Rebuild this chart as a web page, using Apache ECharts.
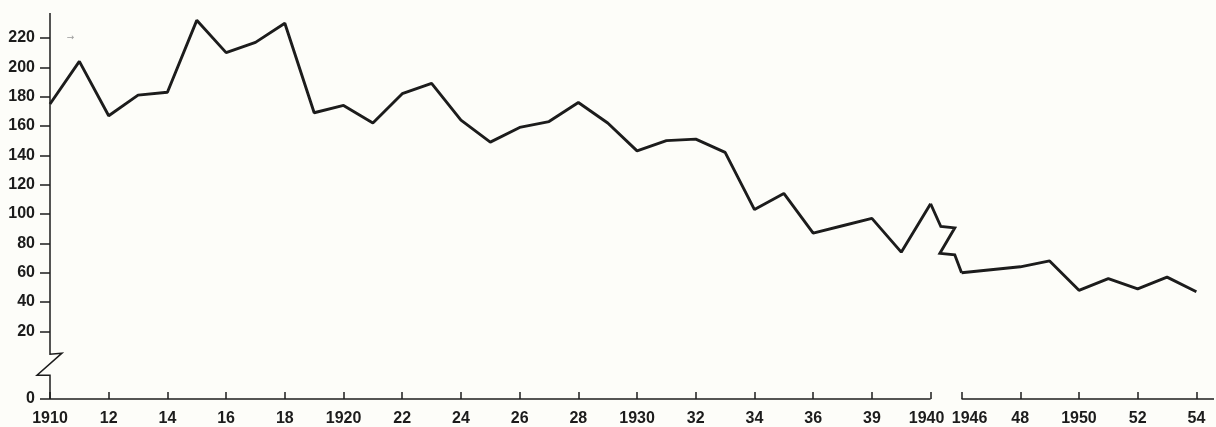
<!DOCTYPE html>
<html><head><meta charset="utf-8">
<script src="https://cdn.jsdelivr.net/npm/echarts@6/dist/echarts.min.js"></script>
<style>html,body{margin:0;padding:0;background:#fdfdf9}#c{width:1216px;height:427px}</style>
</head><body><div id="c"></div>
<script>
// Series values
const yearsA  = [1910,1911,1912,1913,1914,1915,1916,1917,1918,1919,1920,1921,1922,1923,1924,1925,1926,1927,1928,1929,1930,1931,1932,1933,1934,1935,1936,1937,1938,1939,1940];
const valuesA = [175,204,167,181,183,232,210,217,230,169,174,162,182,189,164,149,159,163,176,162,143,150,151,142,103,114,87,92,97,74,107];
const yearsB  = [1946,1947,1948,1949,1950,1951,1952,1953,1954];
const valuesB = [60,62,64,68,48,56,49,57,47];

// Tick labels (as printed on the original, including its "39")
const xTickYears  = [1910,1912,1914,1916,1918,1920,1922,1924,1926,1928,1930,1932,1934,1936,1938,1940,1946,1948,1950,1952,1954];
const xTickLabels = ['1910','12','14','16','18','1920','22','24','26','28','1930','32','34','36','39','1940','1946','48','1950','52','54'];
const yTickValues = [0,20,40,60,80,100,120,140,160,180,200,220];

const X_MIN = 1910, X_MAX = 1954.6, Y_MIN = 0, Y_MAX = 237;
const X_BREAK = [1940, 1946], Y_BREAK = [2, 18];

const INK = '#1c1c1c';
const FONT = 'Liberation Sans';
const chart = echarts.init(document.getElementById('c'), null, {renderer: 'canvas'});

const labelMap = {};
xTickYears.forEach((y, i) => labelMap[y] = xTickLabels[i]);

chart.setOption({
  backgroundColor: '#fdfdf9',
  animation: false,
  grid: {left: 50, right: 2, top: 13, bottom: 28, containLabel: false},
  xAxis: {
    type: 'value', min: X_MIN, max: X_MAX, interval: 2,
    breaks: [{start: X_BREAK[0], end: X_BREAK[1], gap: '2.66%'}],
    breakArea: {show: false},
    axisLine: {show: false},
    splitLine: {show: false},
    axisTick: {show: true, inside: true, length: 7, customValues: xTickYears,
               lineStyle: {color: INK, width: 1.5}},
    axisLabel: {show: true, customValues: xTickYears, margin: 12,
                fontFamily: FONT, fontWeight: 'bold', fontSize: 16, color: INK,
                formatter: v => {
                  if (v === X_BREAK[0]) return '{l|' + labelMap[v] + '}';
                  if (v === X_BREAK[1]) return '{r|' + labelMap[v] + '}';
                  return labelMap[v] !== undefined ? labelMap[v] : '';
                },
                rich: {
                  l: {fontFamily: FONT, fontWeight: 'bold', fontSize: 16, color: INK, padding: [0, 8, 0, 0]},
                  r: {fontFamily: FONT, fontWeight: 'bold', fontSize: 16, color: INK, padding: [0, 0, 0, 16]}
                }}
  },
  yAxis: {
    type: 'value', min: Y_MIN, max: Y_MAX, interval: 20,
    breaks: [{start: Y_BREAK[0], end: Y_BREAK[1], gap: '16%'}],
    breakArea: {show: false},
    axisLine: {show: false},
    splitLine: {show: false},
    axisTick: {show: true, length: 10, customValues: yTickValues,
               lineStyle: {color: INK, width: 1.5}},
    axisLabel: {show: true, customValues: yTickValues, margin: 15,
                fontFamily: FONT, fontWeight: 'bold', fontSize: 16, color: INK}
  },
  series: [
    {type: 'line', data: yearsA.map((y, i) => [y, valuesA[i]]), showSymbol: false,
     lineStyle: {color: INK, width: 2.9}, z: 5},
    {type: 'line', data: yearsB.map((y, i) => [y, valuesB[i]]), showSymbol: false,
     lineStyle: {color: INK, width: 2.9}, z: 5}
  ]
});

function px(x, y) { return chart.convertToPixel({gridIndex: 0}, [x, y]); }

function drawDecor() {
  const o = px(X_MIN, Y_MIN);
  const top = px(X_MIN, Y_MAX);
  const zc = px(X_MIN, (Y_BREAK[0] + Y_BREAK[1]) / 2)[1];
  const x0 = o[0];
  const yAxisPts = [top, [x0, zc - 11], [x0 + 12, zc - 12], [x0 - 13, zc + 10], [x0, zc + 10], o];
  const xa1 = [o, px(X_BREAK[0], Y_MIN)];
  const xa2 = [px(X_BREAK[1], Y_MIN), px(X_MAX, Y_MIN)];
  // connector with break glyph between the last point before and the first point after the gap
  const p0 = px(yearsA[yearsA.length - 1], valuesA[valuesA.length - 1]);
  const p5 = px(yearsB[0], valuesB[0]);
  const dx = p5[0] - p0[0], dy = p5[1] - p0[1];
  const f = [[0,0],[0.33,0.33],[0.78,0.35],[0.30,0.72],[0.78,0.74],[1,1]];
  const conn = f.map(q => [p0[0] + q[0] * dx, p0[1] + q[1] * dy]);
  const ls = {stroke: INK, lineWidth: 1.5, fill: null};
  const arrowAt = px(1910.7, 220);
  chart.setOption({graphic: [
    {type: 'polyline', shape: {points: yAxisPts}, style: ls, z: 10},
    {type: 'polyline', shape: {points: xa1}, style: ls, z: 10},
    {type: 'polyline', shape: {points: xa2}, style: ls, z: 10},
    {type: 'polyline', shape: {points: conn}, style: {stroke: INK, lineWidth: 2.9, fill: null, lineJoin: 'miter'}, z: 10},
    {type: 'text', x: arrowAt[0], y: arrowAt[1], style: {text: '→', fill: '#9a9a9a', font: '9px "DejaVu Sans"', align: 'center', verticalAlign: 'middle'}, z: 10}
  ]});
}
drawDecor();
</script>
</body></html>
